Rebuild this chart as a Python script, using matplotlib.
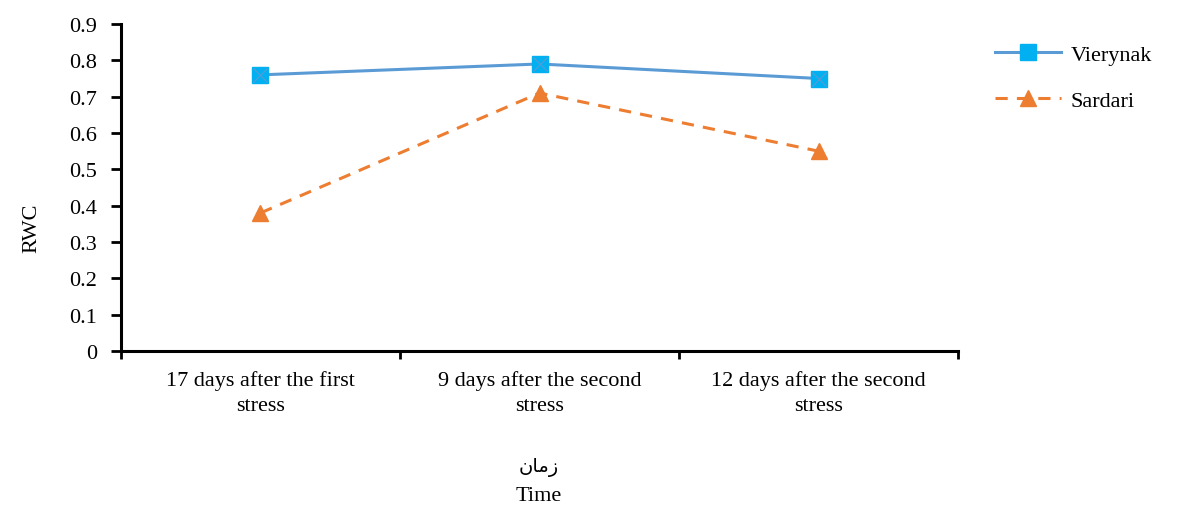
import matplotlib.pyplot as plt

# data
categories = ["17 days after the first\nstress",
              "9 days after the second\nstress",
              "12 days after the second\nstress"]
vierynak = [0.76, 0.79, 0.75]
sardari = [0.38, 0.71, 0.55]

# "zaman" (time) in Persian, written with presentation forms so it shows joined
xlabel_fa = "\uFEE5\uFE8E\uFEE3\uFEAF"

plt.rcParams['font.family'] = ['Liberation Serif', 'DejaVu Sans']
fs = 16

fig = plt.figure(figsize=(11.79, 5.06), dpi=100)
ax = fig.add_axes([0.1026, 0.3043, 0.7100, 0.6463])

x = range(len(categories))
ax.plot(x, vierynak, color="#5B9BD5", lw=2.2, marker="s", ms=12,
        mfc="#00B0F0", mec="#00B0F0", label="Vierynak")
ax.plot(x, vierynak, ls="none", marker="x", ms=10, mec="#5B9BD5", mew=0.8)
ax.plot(x, sardari, color="#ED7D31", lw=2.2, ls=(0, (4, 3)), marker="^", ms=12,
        mfc="#ED7D31", mec="#ED7D31", label="Sardari")

ax.set_xlim(-0.5, 2.5)
ax.set_ylim(0, 0.9)
ax.set_yticks([i / 10 for i in range(10)])
ax.set_yticklabels(["0"] + ["%.1f" % (i / 10) for i in range(1, 10)])
ax.set_xticks([-0.5, 0.5, 1.5, 2.5])
ax.set_xticklabels([])
ax.set_xticks(list(x), minor=True)
ax.set_xticklabels(categories, minor=True, linespacing=1.4)
ax.tick_params(axis="x", which="minor", length=0, pad=14, labelsize=fs)
ax.tick_params(axis="x", which="major", length=6, width=2, direction="out")
ax.tick_params(axis="y", length=7, width=2, labelsize=fs, pad=10)

for s in ["top", "right"]:
    ax.spines[s].set_visible(False)
for s in ["left", "bottom"]:
    ax.spines[s].set_linewidth(2.2)

ax.set_ylabel("RWC", fontsize=fs)
ax.yaxis.set_label_coords(-0.095, 0.38)
fig.text(0.4568, 0.077, xlabel_fa, ha="center", va="center", fontsize=14,
         family=['DejaVu Sans'])
fig.text(0.4568, 0.018, "Time", ha="center", va="center", fontsize=fs)

handles, labels = ax.get_legend_handles_labels()
ax.legend(handles, labels, loc="upper left", bbox_to_anchor=(1.02, 1.0),
          frameon=False, fontsize=fs, handlelength=3.0, labelspacing=1.15,
          handletextpad=0.4)

fig.savefig("out.png", dpi=100)
